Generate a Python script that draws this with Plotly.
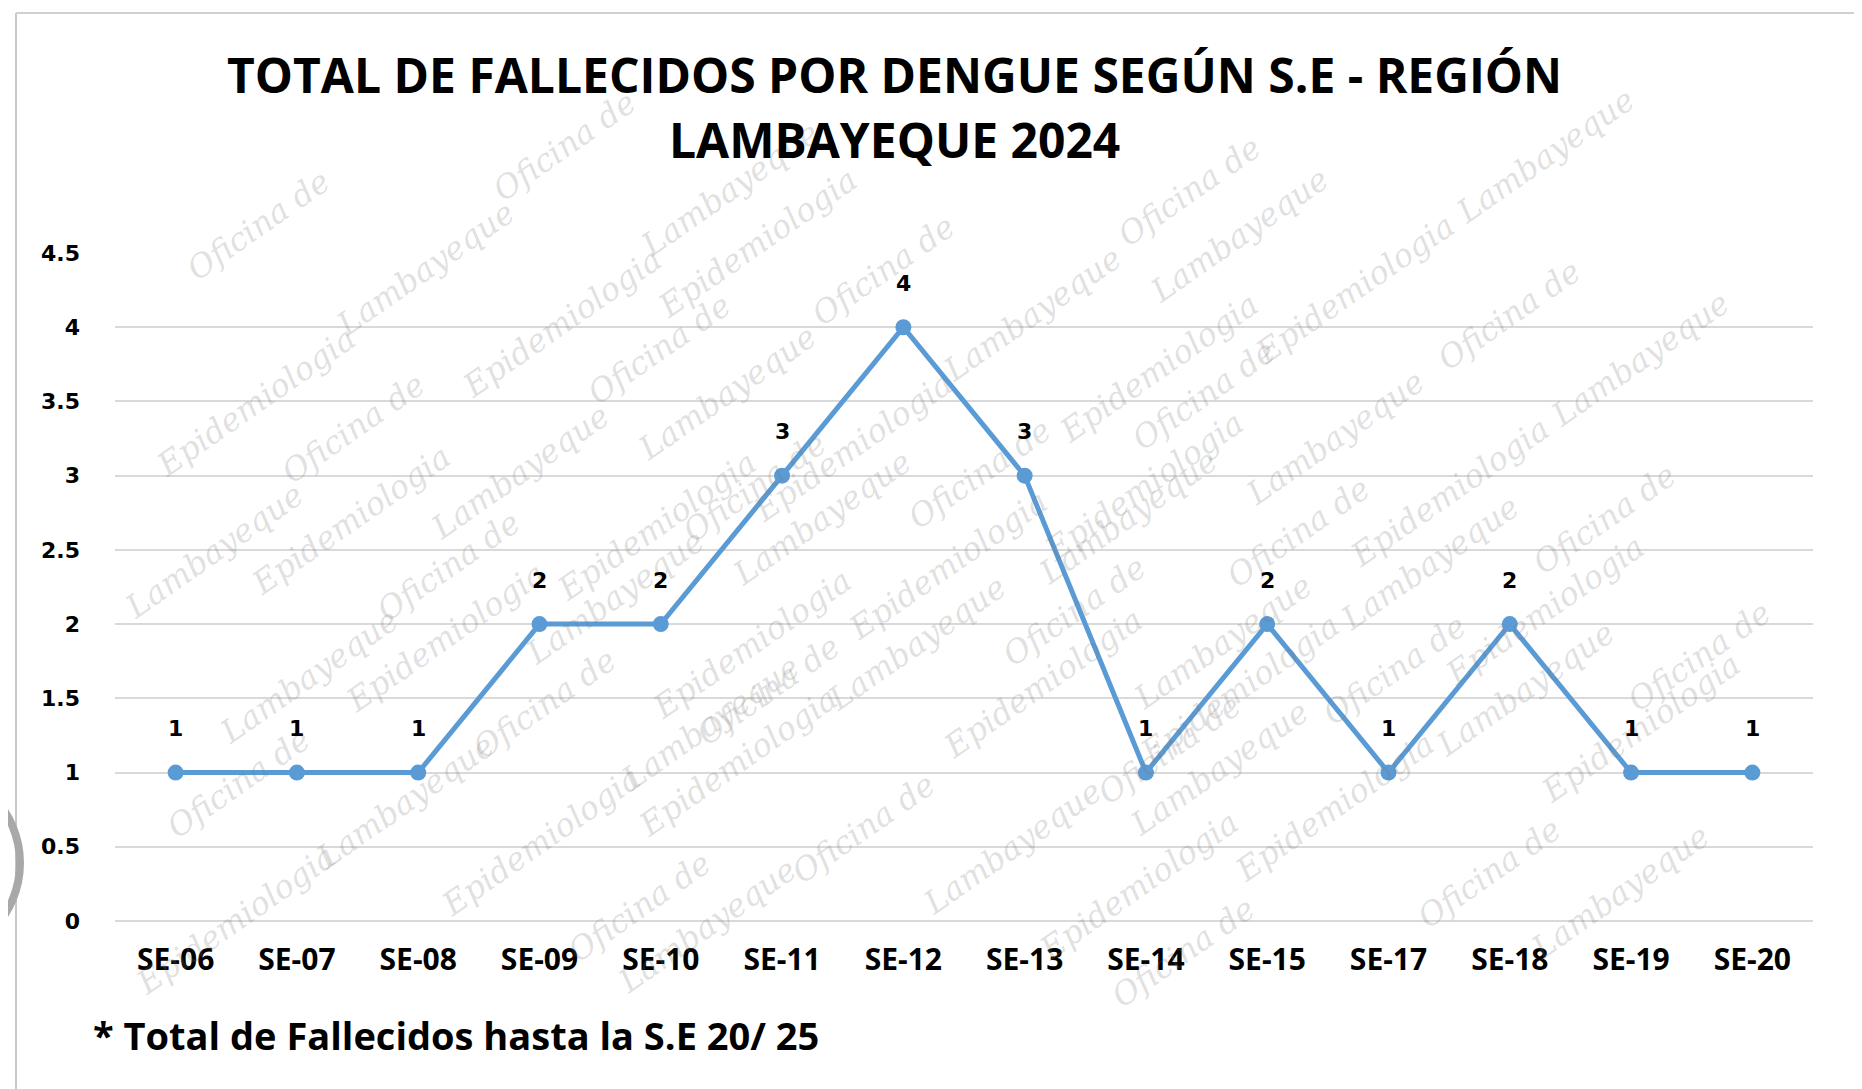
import math
import plotly.graph_objects as go

categories = ["SE-06", "SE-07", "SE-08", "SE-09", "SE-10", "SE-11", "SE-12",
              "SE-13", "SE-14", "SE-15", "SE-17", "SE-18", "SE-19", "SE-20"]
deaths = [1, 1, 1, 2, 2, 3, 4, 3, 1, 2, 1, 2, 1, 1]
y_ticks = [0, 0.5, 1, 1.5, 2, 2.5, 3, 3.5, 4, 4.5]
y_tick_labels = ["0", "0.5", "1", "1.5", "2", "2.5", "3", "3.5", "4", "4.5"]

title_line1 = "TOTAL DE FALLECIDOS POR DENGUE SEGÚN S.E - REGIÓN"
title_line2 = "LAMBAYEQUE 2024"
footnote = "* Total de Fallecidos hasta la S.E 20/ 25"
watermark_words = ["Oficina de", "Epidemiologia", "Lambayeque"]

W, H = 1862, 1089
L, R, T, B = 107, 57, 245, 176
pw, ph = W - L - R, H - T - B


def px2paper(px, py):
    return (px - L) / pw, (H - B - py) / ph


BLUE = "#5B9BD5"
TITLE_FONT = "Open Sans"
fig = go.Figure()

fig.add_trace(go.Scatter(
    x=categories, y=deaths, mode="lines+markers",
    line=dict(color=BLUE, width=5),
    marker=dict(color=BLUE, size=16, symbol="circle"),
    hoverinfo="x+y", showlegend=False,
))

annotations = []
# faint diagonal watermark tiled word by word along parallel lines
ang = math.radians(35)
ca, sa = math.cos(ang), math.sin(ang)
wm_size = 32
char_w = 0.565 * wm_size
gap = 0.35 * wm_size
lens = [len(w) * char_w for w in watermark_words]
cycle = sum(lens) + gap * len(lens)
line_max = W / ca + 300
for r in range(0, 24):
    y0 = r * 135
    s = -((r * 257) % cycle)
    i = 0
    while s < line_max:
        word = watermark_words[i % 3]
        ln = lens[i % 3]
        sc = s + ln / 2
        cx, cy = sc * ca, y0 - sc * sa
        hw = ln / 2 * ca + 0.5 * wm_size * sa
        hh = ln / 2 * sa + 0.5 * wm_size * ca
        if hw + 2 <= cx <= W - hw - 2 and hh + 2 <= cy <= H - hh - 2:
            xp, yp = px2paper(cx, cy)
            annotations.append(dict(
                x=xp, y=yp, xref="paper", yref="paper", showarrow=False,
                text=word, textangle=-35,
                font=dict(family="DejaVu Serif", size=wm_size,
                          color="rgba(120,120,120,0.24)", style="italic"),
            ))
        s += ln + gap
        i += 1

for c, v in zip(categories, deaths):
    annotations.append(dict(
        x=c, y=v, xref="x", yref="y", text=str(v), showarrow=False,
        yshift=44, font=dict(family="DejaVu Sans", size=22, color="black", weight="bold"),
    ))

tx, ty1 = px2paper(886, 67)
_, ty2 = px2paper(886, 131)
annotations.append(dict(x=tx, y=ty1, xref="paper", yref="paper", showarrow=False,
                        text=title_line1, xanchor="center", yanchor="middle",
                        font=dict(family=TITLE_FONT, size=48, color="black", weight="bold")))
annotations.append(dict(x=tx, y=ty2, xref="paper", yref="paper", showarrow=False,
                        text=title_line2, xanchor="center", yanchor="middle",
                        font=dict(family=TITLE_FONT, size=48, color="black", weight="bold")))
fx, fy = px2paper(83, 1027)
annotations.append(dict(x=fx, y=fy, xref="paper", yref="paper", showarrow=False,
                        text=footnote, xanchor="left", yanchor="middle",
                        font=dict(family=TITLE_FONT, size=38, color="black", weight="bold")))

shapes = [
    dict(type="line", xref="paper", yref="paper", layer="below",
         x0=px2paper(8, 0)[0], x1=px2paper(8, 0)[0], y0=px2paper(0, 5)[1], y1=px2paper(0, H)[1],
         line=dict(color="#C8C8C8", width=2)),
    dict(type="line", xref="paper", yref="paper", layer="below",
         x0=px2paper(8, 0)[0], x1=px2paper(W - 8, 0)[0], y0=px2paper(0, 5)[1], y1=px2paper(0, 5)[1],
         line=dict(color="#D0D0D0", width=2)),
    dict(type="circle", xref="paper", yref="paper", layer="below",
         x0=px2paper(-200, 0)[0], x1=px2paper(12, 0)[0],
         y0=px2paper(0, 755)[1], y1=px2paper(0, 955)[1],
         line=dict(color="#A8A8A8", width=8)),
]

fig.update_layout(
    width=W, height=H,
    margin=dict(l=L, r=R, t=T, b=B, autoexpand=False),
    paper_bgcolor="white", plot_bgcolor="rgba(0,0,0,0)",
    annotations=annotations, shapes=shapes,
    xaxis=dict(
        type="category", range=[-0.5, len(categories) - 0.5],
        showgrid=False, zeroline=False, showline=False,
        ticks="", ticklabelstandoff=18,
        tickfont=dict(family=TITLE_FONT, size=30, color="black", weight="bold"),
    ),
    yaxis=dict(
        range=[0, 4.5], tickvals=y_ticks, ticktext=y_tick_labels,
        showgrid=True, gridcolor="#D9D9D9", gridwidth=2,
        zeroline=True, zerolinecolor="#D9D9D9", zerolinewidth=2,
        showline=False, ticks="", ticklabelstandoff=34,
        tickfont=dict(family="DejaVu Sans", size=22, color="black", weight="bold"),
    ),
    hovermode="closest",
)

fig.write_html("out.html")
